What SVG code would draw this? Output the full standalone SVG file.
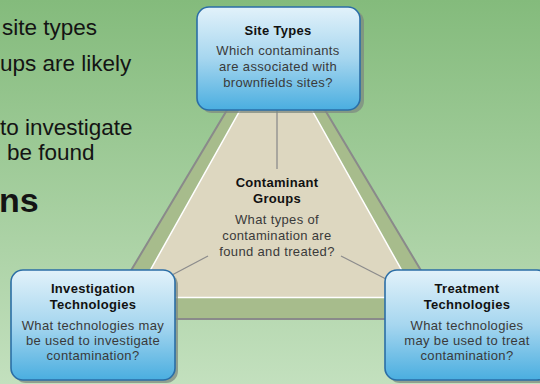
<svg xmlns="http://www.w3.org/2000/svg" width="540" height="384" viewBox="0 0 540 384">
<defs>
<linearGradient id="bg" x1="0" y1="0" x2="0" y2="1">
<stop offset="0" stop-color="#84bb7c"/>
<stop offset="1" stop-color="#c3e0be"/>
</linearGradient>
<linearGradient id="boxfill" x1="0" y1="0" x2="0" y2="1">
<stop offset="0" stop-color="#e2f2fa"/>
<stop offset="0.5" stop-color="#a6d6ef"/>
<stop offset="1" stop-color="#4aaee0"/>
</linearGradient>
</defs>
<style>
.lead{font-family:"Liberation Sans",Arial,sans-serif;font-size:22.5px;fill:#141414}
.leadb{font-family:"Liberation Sans",Arial,sans-serif;font-size:34px;font-weight:bold;fill:#141414}
.box{fill:url(#boxfill);stroke:#2b6ea6;stroke-width:1.6}
.shadow{fill:#7d8a80;opacity:0.75}
.t{font-family:"Liberation Sans",Arial,sans-serif;font-size:13px;font-weight:bold;fill:#111;text-anchor:middle;letter-spacing:0.3px}
.b{font-family:"Liberation Sans",Arial,sans-serif;font-size:13px;fill:#3a3a3a;text-anchor:middle;letter-spacing:0.35px}
.conn{stroke:#8c8c8c;stroke-width:1.3;fill:none}
</style>
<rect x="0" y="0" width="540" height="384" fill="url(#bg)"/>
<g id="lead-text">
<text class="lead" x="2" y="35">site types</text>
<text class="lead" x="0" y="71">ups are likely</text>
<text class="lead" x="0" y="135">to investigate</text>
<text class="lead" x="7" y="160">be found</text>
<text class="leadb" x="-1" y="212">ns</text>
</g>
<g id="triangle">
<polygon points="276,28 102,319 450,319" fill="#a7bc8c" stroke="#8a8a8a" stroke-width="2"/>
<polygon points="276,46 135,297.5 417,297.5" fill="#ddd7c0" stroke="#ffffff" stroke-width="1.5"/>
</g>
<g id="connectors">
<line class="conn" x1="277" y1="110" x2="277" y2="169"/>
<line class="conn" x1="208" y1="256" x2="172" y2="275"/>
<line class="conn" x1="341" y1="256" x2="386" y2="279"/>
</g>
<g id="contaminant-groups">
<text class="t" x="277" y="187">Contaminant</text>
<text class="t" x="277" y="203">Groups</text>
<text class="b" x="277" y="224">What types of</text>
<text class="b" x="277" y="240">contamination are</text>
<text class="b" x="277" y="256">found and treated?</text>
</g>
<g id="site-types">
<rect class="shadow" x="200" y="10" width="164" height="103" rx="12"/>
<rect class="box" x="197" y="7" width="163" height="103" rx="12"/>
<text class="t" x="278" y="35">Site Types</text>
<text class="b" x="278" y="55">Which contaminants</text>
<text class="b" x="278" y="71">are associated with</text>
<text class="b" x="278" y="87">brownfields sites?</text>
</g>
<g id="investigation-technologies">
<rect class="shadow" x="14" y="273" width="164" height="110" rx="12"/>
<rect class="box" x="11" y="270" width="164" height="110" rx="12"/>
<text class="t" x="93" y="293">Investigation</text>
<text class="t" x="93" y="309">Technologies</text>
<text class="b" x="93" y="330">What technologies may</text>
<text class="b" x="93" y="345">be used to investigate</text>
<text class="b" x="93" y="360">contamination?</text>
</g>
<g id="treatment-technologies">
<rect class="shadow" x="388" y="273" width="164" height="110" rx="12"/>
<rect class="box" x="385" y="270" width="164" height="110" rx="12"/>
<text class="t" x="467" y="293">Treatment</text>
<text class="t" x="467" y="309">Technologies</text>
<text class="b" x="467" y="330">What technologies</text>
<text class="b" x="467" y="345">may be used to treat</text>
<text class="b" x="467" y="360">contamination?</text>
</g>
</svg>
